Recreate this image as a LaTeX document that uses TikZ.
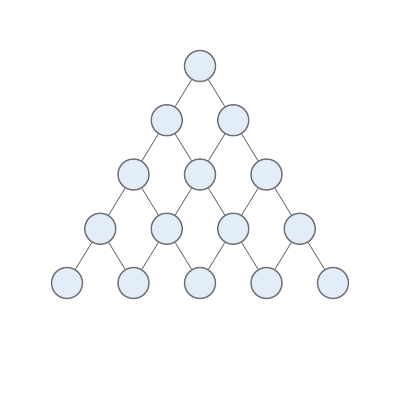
\documentclass[tikz,border=0pt]{standalone}
\usepackage{tikz}
\usetikzlibrary{positioning}

\definecolor{cellfill}{HTML}{E3ECF9}
\definecolor{cellline}{HTML}{6E7175}

\begin{document}
\begin{tikzpicture}[x=0.02cm,y=-0.02cm]
            \tikzstyle{cell}=[circle,minimum size=0.62cm,inner sep=0pt,draw=cellline,fill=cellfill,thick]
            \tikzstyle{every edge}=[draw=cellline,line width=0.5pt]

            \useasboundingbox (0,0) rectangle (400,400);

            % rows of the triangle
            \foreach \r in {0,...,4}
                \foreach \k in {0,...,\r}
                    \node[cell] (n-\r-\k) at ({200+(\k-\r/2)*66.5}, {66+54.25*\r}) {};

            % links to the row below
            \foreach \r in {0,...,3}
                \foreach \k in {0,...,\r} {
                    \pgfmathtruncatemacro{\rb}{\r+1}
                    \pgfmathtruncatemacro{\kb}{\k+1}
                    \path (n-\r-\k) edge (n-\rb-\k);
                    \path (n-\r-\k) edge (n-\rb-\kb);
                }
        \end{tikzpicture}
\end{document}
